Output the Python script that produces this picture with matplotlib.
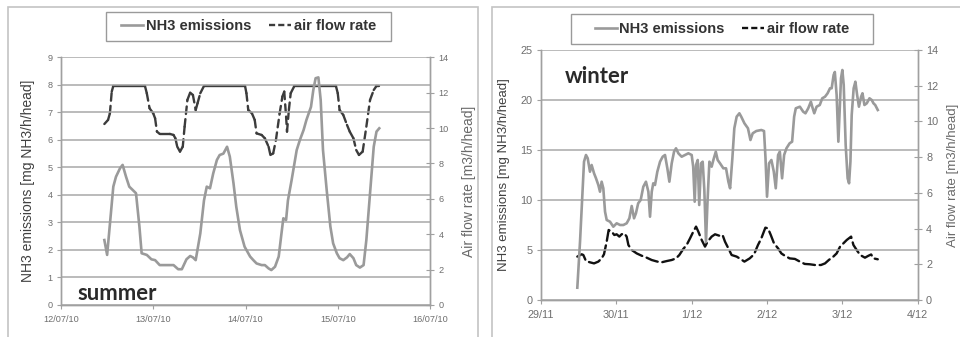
import matplotlib
matplotlib.use("Agg")
import matplotlib.pyplot as plt
import numpy as np
from matplotlib.patches import Rectangle
from matplotlib.lines import Line2D
from matplotlib.collections import LineCollection

# ---------------- summer (days since 12/07/10) ----------------
summer_nh3_t = [0.47, 0.50, 0.567, 0.596, 0.64, 0.668, 0.705, 0.74, 0.777, 0.813,
                0.85, 0.874, 0.93, 0.98, 1.02, 1.07, 1.145, 1.22, 1.27, 1.31,
                1.36, 1.40, 1.43, 1.46, 1.51, 1.55, 1.58, 1.615, 1.65, 1.69,
                1.72, 1.76, 1.80, 1.83, 1.87, 1.90, 1.94, 1.99, 2.05, 2.085,
                2.12, 2.175, 2.21, 2.25, 2.28, 2.32, 2.36, 2.39, 2.41, 2.44,
                2.46, 2.50, 2.555, 2.59, 2.63, 2.66, 2.71, 2.735, 2.76, 2.79,
                2.815, 2.84, 2.88, 2.92, 2.95, 2.99, 3.02, 3.06, 3.10, 3.13,
                3.17, 3.20, 3.24, 3.28, 3.31, 3.35, 3.39, 3.42, 3.45]
summer_nh3 = [2.36, 1.82, 4.3, 4.66, 4.97, 5.09, 4.66, 4.3, 4.18, 4.06,
              2.85, 1.88, 1.82, 1.66, 1.63, 1.45, 1.45, 1.45, 1.3, 1.3,
              1.66, 1.78, 1.73, 1.63, 2.6, 3.8, 4.3, 4.24, 4.78, 5.27,
              5.45, 5.5, 5.75, 5.39, 4.42, 3.57, 2.72, 2.12, 1.76, 1.63,
              1.51, 1.45, 1.45, 1.33, 1.27, 1.39, 1.76, 2.6, 3.15, 3.09,
              3.8, 4.54, 5.63, 6.0, 6.36, 6.72, 7.2, 7.81, 8.24, 8.27,
              7.45, 5.63, 4.18, 2.85, 2.24, 1.88, 1.70, 1.63, 1.73, 1.85,
              1.70, 1.45, 1.36, 1.45, 2.36, 4.06, 5.75, 6.3, 6.42]

summer_air_t = [0.47, 0.51, 0.53, 0.55, 0.567, 0.91, 0.93, 0.96, 1.0, 1.02,
                1.04, 1.07, 1.18, 1.22, 1.24, 1.26, 1.29, 1.32, 1.34, 1.37,
                1.40, 1.43, 1.46, 1.48, 1.51, 1.55, 1.995, 2.01, 2.03, 2.07,
                2.10, 2.12, 2.175, 2.21, 2.25, 2.27, 2.30, 2.33, 2.37, 2.40,
                2.42, 2.44, 2.45, 2.47, 2.49, 2.53, 2.98, 3.0, 3.02, 3.06,
                3.10, 3.13, 3.17, 3.20, 3.23, 3.27, 3.31, 3.35, 3.39, 3.42, 3.45]
summer_air = [10.23, 10.46, 10.83, 12.06, 12.38, 12.38, 11.97, 11.12, 10.83, 10.55,
              9.8, 9.67, 9.67, 9.61, 9.42, 8.95, 8.67, 8.95, 10.08, 11.59,
              12.0, 11.87, 11.02, 11.4, 11.97, 12.38, 12.38, 11.97, 11.02, 10.83,
              10.46, 9.7, 9.61, 9.42, 8.95, 8.48, 8.57, 9.33, 10.83, 11.78,
              12.06, 10.65, 9.8, 11.02, 11.97, 12.38, 12.38, 11.97, 11.02, 10.74,
              10.18, 9.8, 9.42, 8.76, 8.48, 8.67, 10.08, 11.59, 12.15, 12.38, 12.38]

summer_xticklabels = ["12/07/10", "13/07/10", "14/07/10", "15/07/10", "16/07/10"]

# ---------------- winter (days since 29/11) ----------------
winter_nh3_t = [0.482, 0.518, 0.549, 0.571, 0.597, 0.62, 0.65, 0.672, 0.704, 0.73,
                0.761, 0.783, 0.805, 0.827, 0.85, 0.872, 0.916, 0.96, 0.982, 1.004,
                1.05, 1.093, 1.137, 1.173, 1.204, 1.235, 1.26, 1.29, 1.323, 1.358,
                1.393, 1.425, 1.447, 1.47, 1.49, 1.513, 1.544, 1.58, 1.615, 1.646,
                1.677, 1.704, 1.735, 1.766, 1.792, 1.823, 1.867, 1.912, 1.956, 2.0,
                2.02, 2.04, 2.058, 2.08, 2.10, 2.124, 2.146, 2.168, 2.19, 2.21,
                2.235, 2.265, 2.288, 2.32, 2.345, 2.376, 2.42, 2.456, 2.487, 2.51,
                2.54, 2.566, 2.597, 2.633, 2.658, 2.70, 2.747, 2.78, 2.81, 2.858,
                2.924, 2.96, 2.98, 3.0, 3.027, 3.058, 3.09, 3.116, 3.147, 3.17,
                3.20, 3.227, 3.258, 3.30, 3.333, 3.36, 3.382, 3.436, 3.48, 3.51,
                3.547, 3.582, 3.60, 3.627, 3.658, 3.70, 3.733, 3.77, 3.804, 3.836,
                3.858, 3.884, 3.90, 3.924, 3.947, 3.964, 3.982, 4.0, 4.018, 4.044,
                4.07, 4.089, 4.107, 4.124, 4.15, 4.173, 4.196, 4.22, 4.249, 4.267,
                4.293, 4.324, 4.36, 4.39, 4.413, 4.436, 4.47]
winter_nh3 = [1.23, 5.83, 10.5, 13.83, 14.5, 14.17, 12.83, 13.5, 12.67, 12.17,
              11.5, 10.83, 11.83, 11.17, 8.83, 8.0, 7.83, 7.33, 7.5, 7.67,
              7.5, 7.5, 7.67, 8.17, 9.4, 8.17, 8.67, 9.67, 10.0, 11.33,
              11.83, 10.83, 8.33, 10.83, 11.67, 11.5, 12.83, 13.83, 14.33, 14.5,
              13.17, 11.83, 13.67, 14.83, 15.17, 14.67, 14.33, 14.5, 14.67, 14.5,
              13.33, 9.83, 13.5, 14.0, 9.5, 13.67, 13.83, 11.0, 5.8, 9.83,
              13.83, 13.33, 14.0, 14.83, 14.0, 13.67, 13.17, 13.17, 11.83, 11.17,
              14.17, 17.17, 18.33, 18.67, 18.33, 17.67, 17.17, 16.0, 16.67, 16.9,
              17.0, 16.9, 14.17, 10.33, 13.67, 14.0, 12.83, 11.17, 14.5, 14.83,
              12.17, 14.5, 15.17, 15.67, 15.83, 18.33, 19.17, 19.33, 18.83, 18.67,
              19.17, 19.83, 19.33, 18.67, 19.33, 19.5, 20.17, 20.33, 20.67, 21.17,
              21.17, 22.5, 22.8, 20.5, 15.83, 18.83, 22.17, 23.0, 21.5, 15.5,
              12.17, 11.67, 13.83, 18.5, 21.17, 21.83, 20.5, 19.33, 20.33, 20.67,
              19.5, 19.67, 20.17, 20.0, 19.67, 19.5, 19.0]

winter_air_t = [0.482, 0.54, 0.562, 0.597, 0.65, 0.704, 0.761, 0.805, 0.836, 0.872,
                0.898, 0.938, 0.973, 1.004, 1.04, 1.07, 1.106, 1.137, 1.16, 1.204,
                1.27, 1.336, 1.403, 1.469, 1.544, 1.60, 1.668, 1.735, 1.792, 1.836,
                1.889, 1.933, 1.978, 2.022, 2.058, 2.088, 2.133, 2.177, 2.212, 2.265,
                2.31, 2.367, 2.41, 2.442, 2.487, 2.53, 2.597, 2.635, 2.70, 2.77,
                2.827, 2.88, 2.924, 2.978, 3.013, 3.05, 3.093, 3.147, 3.19, 3.236,
                3.30, 3.37, 3.436, 3.50, 3.569, 3.636, 3.716, 3.77, 3.82, 3.88,
                3.924, 3.97, 4.013, 4.058, 4.116, 4.147, 4.19, 4.236, 4.30, 4.347,
                4.382, 4.413, 4.47]
winter_air = [2.43, 2.56, 2.52, 2.18, 2.11, 2.05, 2.15, 2.33, 2.56, 3.27,
              3.92, 3.83, 3.64, 3.68, 3.55, 3.68, 3.73, 3.55, 3.08, 2.8,
              2.61, 2.48, 2.37, 2.24, 2.15, 2.11, 2.18, 2.24, 2.33, 2.52,
              2.86, 3.08, 3.45, 3.83, 4.11, 3.83, 3.36, 2.99, 3.27, 3.55,
              3.68, 3.6, 3.64, 3.27, 2.89, 2.52, 2.43, 2.33, 2.15, 2.33,
              2.55, 3.08, 3.45, 4.05, 4.01, 3.64, 3.17, 2.89, 2.61, 2.48,
              2.33, 2.30, 2.15, 2.02, 2.0, 1.96, 1.96, 2.05, 2.24, 2.43,
              2.61, 2.99, 3.17, 3.36, 3.55, 3.08, 2.80, 2.52, 2.37, 2.48,
              2.55, 2.33, 2.28]

winter_xticklabels = ["29/11", "30/11", "1/12", "2/12", "3/12", "4/12"]

legend_labels = ["NH3 emissions", "air flow rate"]
left_ylabel = "NH3 emissions [mg NH3/h/head]"
right_ylabel = "Air flow rate [m3/h/head]"

# ---------------- styling ----------------
W, H = 960, 337
NH3_COLOR = "#9a9a9a"
GRID = "#a8a8a8"
SPINE = "#a0a0a0"
TICK_TXT = "#6e6e6e"
FONT = "Liberation Sans"

fig = plt.figure(figsize=(W / 100, H / 100), dpi=100)
fig.patch.set_facecolor("white")


def px_axes(x0, y0, x1, y1):
    return [x0 / W, 1 - y1 / H, (x1 - x0) / W, (y1 - y0) / H]


def px_rect(x0, y0, x1, y1, **kw):
    fig.patches.append(Rectangle((x0 / W, 1 - y1 / H), (x1 - x0) / W, (y1 - y0) / H,
                                 transform=fig.transFigure, fill=False, **kw))


def segment_dashed(ax, t, v, color, lw, dash):
    # every segment starts its own dash pattern; level runs are drawn solid
    pts = np.column_stack([t, v])
    segs = np.stack([pts[:-1], pts[1:]], axis=1)
    styles = ["solid" if a == b else dash for a, b in zip(v[:-1], v[1:])]
    lc = LineCollection(segs, colors=color, linewidths=lw, linestyles=styles,
                        capstyle="round")
    ax.add_collection(lc)
    return lc


def panel(rect, frame, t_nh3, nh3, t_air, air, ymax_l, ystep_l, xlabels,
          air_color, dash, per_segment, tick_fs, label_fs, lpads, season,
          season_xy, leg_box):
    px_rect(*frame, edgecolor="#c4c4c4", linewidth=1.2, zorder=0)

    ax = fig.add_axes(px_axes(*rect))
    ax2 = ax.twinx()

    ax.set_xlim(0, len(xlabels) - 1)
    ax.set_xticks(range(len(xlabels)))
    ax.set_xticklabels(xlabels)
    ax.set_ylim(0, ymax_l)
    ax.set_yticks(range(0, ymax_l + 1, ystep_l))
    ax2.set_ylim(0, 14)
    ax2.set_yticks(range(0, 15, 2))

    ax.grid(axis="y", color=GRID, linewidth=1.1)
    ax.set_axisbelow(True)
    for a in (ax, ax2):
        for s in a.spines.values():
            s.set_color(SPINE)
            s.set_linewidth(1.0)
        a.spines["top"].set_visible(False)

    ax.tick_params(axis="y", direction="out", length=3, width=0.8, color=SPINE,
                   labelsize=tick_fs, labelcolor=TICK_TXT, pad=3)
    ax.tick_params(axis="x", direction="out", length=3, width=0.8, color=SPINE,
                   labelsize=tick_fs, labelcolor=TICK_TXT, pad=4)
    ax2.tick_params(axis="y", direction="inout", length=6, width=0.8, color=SPINE,
                    labelsize=tick_fs, labelcolor=TICK_TXT, pad=3)
    for lab in ax.get_xticklabels() + ax.get_yticklabels() + ax2.get_yticklabels():
        lab.set_fontfamily(FONT)

    ax.plot(t_nh3, nh3, color=NH3_COLOR, linewidth=1.9, solid_joinstyle="round")
    if per_segment:
        segment_dashed(ax2, t_air, air, air_color, 1.7, dash)
    else:
        ax2.plot(t_air, air, color=air_color, linewidth=1.7, linestyle=dash,
                 dash_capstyle="round")
    ax.set_zorder(ax2.get_zorder() + 1)
    ax.patch.set_visible(False)

    ax.set_ylabel(left_ylabel, fontsize=label_fs, color="#404040", fontfamily=FONT,
                  labelpad=lpads[0])
    ax2.set_ylabel(right_ylabel, fontsize=label_fs, color="#6a6a6a", fontfamily=FONT,
                   labelpad=lpads[1])

    fig.text(season_xy[0] / W, 1 - season_xy[1] / H, season, fontsize=15.9,
             fontweight="bold", color="#2a2a2a", fontfamily="Lato",
             ha="left", va="baseline")

    bx0, by0, bx1, by1 = leg_box
    px_rect(bx0, by0, bx1, by1, edgecolor="#9a9a9a", linewidth=1.0, zorder=3)
    h1 = Line2D([], [], color=NH3_COLOR, linewidth=1.9)
    h2 = Line2D([], [], color=air_color, linewidth=1.7, linestyle=(0, (2.6, 1.3)))
    leg = fig.legend([h1, h2], legend_labels, loc="center", ncol=2,
                     bbox_to_anchor=((bx0 + bx1) / 2 / W, 1 - (by0 + by1) / 2 / H),
                     bbox_transform=fig.transFigure, frameon=False,
                     handlelength=1.5, handletextpad=0.2, columnspacing=1.2,
                     borderpad=0.3, prop={"family": FONT, "weight": "bold", "size": 10.5})
    for t in leg.get_texts():
        t.set_color("#333333")


panel(rect=(61, 57.3, 430, 305), frame=(7.5, 7.5, 478, 345),
      t_nh3=summer_nh3_t, nh3=summer_nh3, t_air=summer_air_t, air=summer_air,
      ymax_l=9, ystep_l=1, xlabels=summer_xticklabels, air_color="#3c3c3c",
      dash=(0, (3.2, 2.2)), per_segment=True, tick_fs=6.6, label_fs=10.0,
      lpads=(9, 9.5), season="summer", season_xy=(77, 300),
      leg_box=(106, 12, 391, 41))

panel(rect=(541, 50, 917.7, 300), frame=(492, 7.5, 970, 345),
      t_nh3=winter_nh3_t, nh3=winter_nh3, t_air=winter_air_t, air=winter_air,
      ymax_l=25, ystep_l=5, xlabels=winter_xticklabels, air_color="#111111",
      dash=(0, (5.0, 2.0)), per_segment=False, tick_fs=7.8, label_fs=9.5,
      lpads=(7.5, 6.5), season="winter", season_xy=(565, 83),
      leg_box=(571, 14, 873, 44))

fig.savefig("out.png", dpi=100, facecolor="white")
